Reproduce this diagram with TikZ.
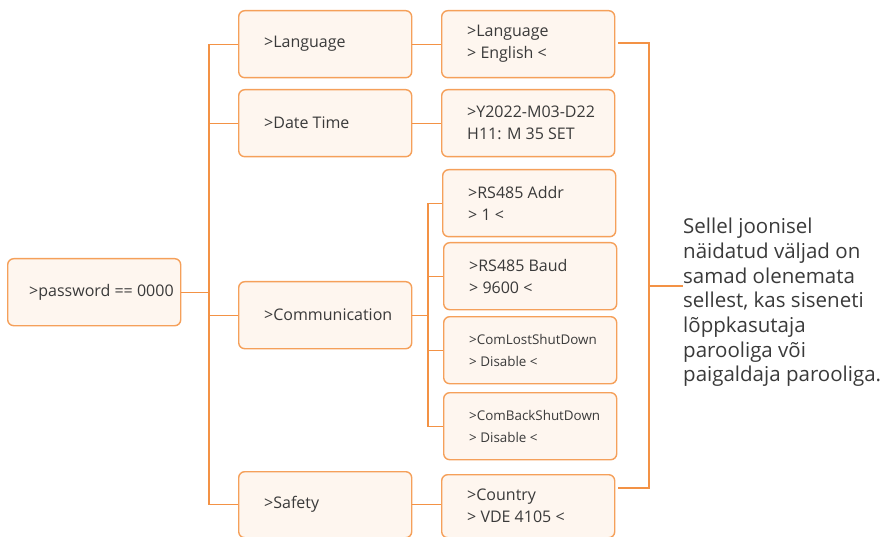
\documentclass[tikz,border=0pt]{standalone}
\usepackage{fontspec}
\setmainfont{Open Sans}
\usetikzlibrary{positioning,calc}
\definecolor{menuline}{HTML}{F5A05A}
\definecolor{menufill}{HTML}{FEF6EF}
\definecolor{linkline}{HTML}{F39245}
\definecolor{inkgray}{HTML}{3A3A3A}

\begin{document}
\begin{tikzpicture}[x=1pt, y=-1pt,
  menu/.style={draw=menuline, line width=1.4pt, rounded corners=6pt,
    fill=menufill, minimum width=173pt, minimum height=67pt,
    anchor=north west, inner sep=0pt},
  tag/.style={anchor=west, xshift=26pt, inner sep=0pt, align=left,
    text=inkgray, font=\fontsize{16}{22}\selectfont},
  small/.style={tag, font=\fontsize{13.4}{22}\selectfont},
  note/.style={anchor=north west, inner sep=0pt, align=left, text=inkgray,
    font=\fontsize{20.5}{24.7}\selectfont},
  link/.style={draw=linkline, line width=1.3pt}]
\useasboundingbox (0,0) rectangle (883,537);
% first level
\node[menu, label={[tag, xshift=-4pt]west:>password == 0000}] (pwd) at (7,258) {};
\node[menu, label={[tag]west:>Language}] (lang) at (238,10) {};
\node[menu, label={[tag]west:>Date Time}] (date) at (238,89) {};
\node[menu, label={[tag]west:>Communication}] (comm) at (238,281) {};
\node[menu, minimum height=66pt, label={[tag]west:>Safety}] (safe) at (238,471) {};
% second level
\node[menu, label={[tag]west:{>Language\\> English <}}] (langv) at (441,10) {};
\node[menu, label={[tag]west:{>Y2022-M03-D22\\H11: M 35 SET}}] (datev) at (441,89) {};
\node[menu, label={[tag]west:{>RS485 Addr\\> 1 <}}] (addr) at (442,169) {};
\node[menu, label={[tag]west:{>RS485 Baud\\> 9600 <}}] (baud) at (443,242) {};
\node[menu, label={[small]west:{>ComLostShutDown\\> Disable <}}] (lost) at (443,316) {};
\node[menu, label={[small]west:{>ComBackShutDown\\> Disable <}}] (back) at (443,392) {};
\node[menu, minimum height=63pt, label={[tag]west:{>Country\\> VDE 4105 <}}] (ctry) at (441,474) {};
\node[note] (remark) at (683,218) {Sellel joonisel\\n\"aidatud v\"aljad on\\samad olenemata\\
  sellest, kas siseneti\\l\~oppkasutaja\\parooliga v\~oi\\paigaldaja parooliga.};
% trees
\coordinate (fork) at (209,0);
\coordinate (subfork) at (428,0);
\draw[link] (lang.west) -- (lang.west -| fork) -- (safe.west -| fork) -- (safe.west);
\draw[link] (date.west) -- (date.west -| fork);
\draw[link] (comm.west) -- (comm.west -| fork);
\draw[link] (pwd.east) -- (pwd.east -| fork);
\draw[link] (addr.west) -- (addr.west -| subfork) -- (back.west -| subfork) -- (back.west);
\draw[link] (baud.west) -- (baud.west -| subfork);
\draw[link] (lost.west) -- (lost.west -| subfork);
\draw[link] (comm.east) -- (comm.east -| subfork);
\draw[link] (lang.east) -- (langv.west);
\draw[link] (date.east) -- (datev.west);
\draw[link] (safe.east) -- (safe.east -| ctry.west);
% bracket
\coordinate (btop) at (618,43);
\coordinate (bbot) at (618,488);
\coordinate (bmid) at (649,286);
\draw[link] (btop) -- (btop -| bmid) -- (bbot -| bmid) -- (bbot);
\draw[link] (bmid) -- (bmid -| remark.west);
\end{tikzpicture}
\end{document}
